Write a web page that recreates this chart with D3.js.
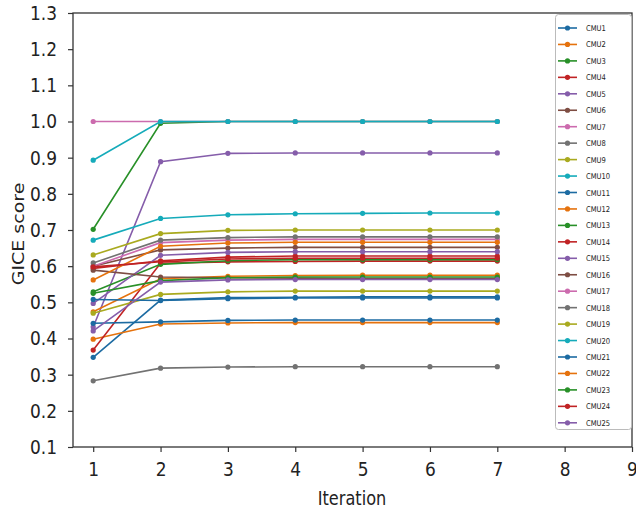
<!DOCTYPE html>
<html lang="en">
<head>
  <meta charset="utf-8" />
  <title>GICE score by iteration</title>
  <script src="https://d3js.org/d3.v7.min.js"></script>
  <style>
    body { margin: 0; background: #fff; }
    text { font-family: "DejaVu Sans", sans-serif; }
  </style>
</head>
<body>
<script>
  // iterations on the x axis
  var iterations = [1, 2, 3, 4, 5, 6, 7];
  var xTicks = [1, 2, 3, 4, 5, 6, 7, 8, 9];
  var yTicks = [0.1, 0.2, 0.3, 0.4, 0.5, 0.6, 0.7, 0.8, 0.9, 1.0, 1.1, 1.2, 1.3];

  var units = ["CMU1", "CMU2", "CMU3", "CMU4", "CMU5", "CMU6", "CMU7", "CMU8", "CMU9", "CMU10",
               "CMU11", "CMU12", "CMU13", "CMU14", "CMU15", "CMU16", "CMU17", "CMU18", "CMU19", "CMU20",
               "CMU21", "CMU22", "CMU23", "CMU24", "CMU25"];

  // GICE score of each unit, one value per iteration
  var cmu1  = [0.348, 0.506, 0.513, 0.514, 0.515, 0.515, 0.515];
  var cmu2  = [0.398, 0.440, 0.443, 0.444, 0.444, 0.444, 0.444];
  var cmu3  = [0.702, 0.995, 1.000, 1.000, 1.000, 1.000, 1.000];
  var cmu4  = [0.368, 0.608, 0.612, 0.613, 0.614, 0.614, 0.614];
  var cmu5  = [0.432, 0.889, 0.912, 0.913, 0.913, 0.913, 0.913];
  var cmu6  = [0.600, 0.645, 0.650, 0.652, 0.652, 0.652, 0.652];
  var cmu7  = [1.000, 1.000, 1.000, 1.000, 1.000, 1.000, 1.000];
  var cmu8  = [0.283, 0.318, 0.321, 0.322, 0.322, 0.322, 0.322];
  var cmu9  = [0.631, 0.690, 0.699, 0.700, 0.700, 0.700, 0.700];
  var cmu10 = [0.672, 0.732, 0.742, 0.745, 0.746, 0.747, 0.747];
  var cmu11 = [0.442, 0.446, 0.450, 0.451, 0.451, 0.451, 0.451];
  var cmu12 = [0.474, 0.565, 0.572, 0.574, 0.575, 0.575, 0.575];
  var cmu13 = [0.529, 0.605, 0.615, 0.618, 0.618, 0.618, 0.618];
  var cmu14 = [0.594, 0.615, 0.625, 0.628, 0.628, 0.628, 0.628];
  var cmu15 = [0.497, 0.630, 0.638, 0.640, 0.640, 0.640, 0.640];
  var cmu16 = [0.589, 0.570, 0.568, 0.567, 0.566, 0.566, 0.566];
  var cmu17 = [0.600, 0.665, 0.672, 0.674, 0.674, 0.674, 0.674];
  var cmu18 = [0.609, 0.672, 0.679, 0.681, 0.681, 0.681, 0.681];
  var cmu19 = [0.470, 0.522, 0.529, 0.531, 0.531, 0.531, 0.531];
  var cmu20 = [0.893, 1.000, 1.000, 1.000, 1.000, 1.000, 1.000];
  var cmu21 = [0.508, 0.505, 0.510, 0.512, 0.512, 0.512, 0.512];
  var cmu22 = [0.562, 0.655, 0.664, 0.666, 0.666, 0.666, 0.666];
  var cmu23 = [0.525, 0.560, 0.568, 0.570, 0.570, 0.570, 0.570];
  var cmu24 = [0.598, 0.612, 0.620, 0.622, 0.622, 0.622, 0.622];
  var cmu25 = [0.421, 0.556, 0.562, 0.563, 0.563, 0.563, 0.563];

  var scores = [cmu1, cmu2, cmu3, cmu4, cmu5, cmu6, cmu7, cmu8, cmu9, cmu10,
                cmu11, cmu12, cmu13, cmu14, cmu15, cmu16, cmu17, cmu18, cmu19, cmu20,
                cmu21, cmu22, cmu23, cmu24, cmu25];

  // matplotlib's default colour cycle
  var palette = ["#1f77b4", "#ff7f0e", "#2ca02c", "#d62728", "#9467bd",
                 "#8c564b", "#e377c2", "#7f7f7f", "#bcbd22", "#17becf"];

  var w = 636;
  var h = 514;
  var plotLeft = 73, plotRight = 632, plotTop = 13, plotBottom = 447;
  var squeeze = 0.85; // the picture is a little narrower than tall

  var svg = d3.select("body")
            .append("svg")
            .attr("width", w)
            .attr("height", h);

  var x = d3.scaleLinear().domain([0.7, 9]).range([plotLeft, plotRight]);
  var y = d3.scaleLinear().domain([0.1, 1.3]).range([plotBottom, plotTop]);

  var series = units.map(function(name, i) {
    return {
      name: name,
      color: d3.color(palette[i % palette.length]).darker(0.3).formatHex(),
      points: iterations.map(function(it, j) { return {it: it, v: scores[i][j]}; })
    };
  });

  var line = d3.line()
      .x(function(d) { return x(d.it); })
      .y(function(d) { return y(d.v); });

  // lines with small round markers
  var g = svg.selectAll("g.series")
      .data(series)
      .enter()
      .append("g")
      .attr("class", "series");

  g.append("path")
      .attr("d", function(d) { return line(d.points); })
      .attr("fill", "none")
      .attr("stroke", function(d) { return d.color; })
      .attr("stroke-width", 1.6);

  g.selectAll("circle")
      .data(function(d) { return d.points.map(function(p) { return {p: p, color: d.color}; }); })
      .enter()
      .append("circle")
      .attr("cx", function(d) { return x(d.p.it); })
      .attr("cy", function(d) { return y(d.p.v); })
      .attr("r", 2.6)
      .attr("fill", function(d) { return d.color; });

  // axes
  var xAxis = svg.append("g")
      .attr("transform", "translate(0," + plotBottom + ")")
      .call(d3.axisBottom(x).tickValues(xTicks).tickFormat(d3.format("d")).tickSize(5).tickPadding(10));

  var yAxis = svg.append("g")
      .attr("transform", "translate(" + plotLeft + ",0)")
      .call(d3.axisLeft(y).tickValues(yTicks).tickFormat(d3.format(".1f")).tickSize(5).tickPadding(10));

  [xAxis, yAxis].forEach(function(a) {
    a.select(".domain").remove();
    a.selectAll("line").attr("stroke", "#333").attr("stroke-width", 1.2);
    a.selectAll("text")
      .attr("font-size", "20px")
      .attr("fill", "#222")
      .attr("transform", "scale(" + squeeze + ",1)");
  });
  yAxis.selectAll("text").attr("x", -16 / squeeze);

  // frame round the plot
  svg.append("rect")
      .attr("x", plotLeft)
      .attr("y", plotTop)
      .attr("width", plotRight - plotLeft)
      .attr("height", plotBottom - plotTop)
      .attr("fill", "none")
      .attr("stroke", "#333")
      .attr("stroke-width", 1.3);

  svg.append("text")
      .text("Iteration")
      .attr("transform", "translate(" + 352 + ",505) scale(" + squeeze + ",1)")
      .attr("text-anchor", "middle")
      .attr("font-size", "19px")
      .attr("fill", "#222");

  svg.append("text")
      .text("GICE score")
      .attr("transform", "translate(24,234) scale(" + squeeze + ",1) rotate(-90)")
      .attr("text-anchor", "middle")
      .attr("font-size", "19px")
      .attr("fill", "#222");

  // legend
  var lg = svg.append("g");
  lg.append("rect")
      .attr("x", 555.5)
      .attr("y", 14.5)
      .attr("width", 76)
      .attr("height", 415)
      .attr("rx", 3)
      .attr("fill", "#fff")
      .attr("fill-opacity", 0.85)
      .attr("stroke", "#bbb");

  var item = lg.selectAll("g.item")
      .data(series)
      .enter()
      .append("g")
      .attr("class", "item")
      .attr("transform", function(d, i) { return "translate(0," + (28 + i * 16.45) + ")"; });

  item.append("line")
      .attr("x1", 558)
      .attr("x2", 577)
      .attr("stroke", function(d) { return d.color; })
      .attr("stroke-width", 1.6);

  item.append("circle")
      .attr("cx", 567.5)
      .attr("r", 2.6)
      .attr("fill", function(d) { return d.color; });

  item.append("text")
      .text(function(d) { return d.name; })
      .attr("transform", "translate(586,3) scale(" + squeeze + ",1)")
      .attr("font-size", "8px")
      .attr("fill", "#222");
</script>
</body>
</html>
